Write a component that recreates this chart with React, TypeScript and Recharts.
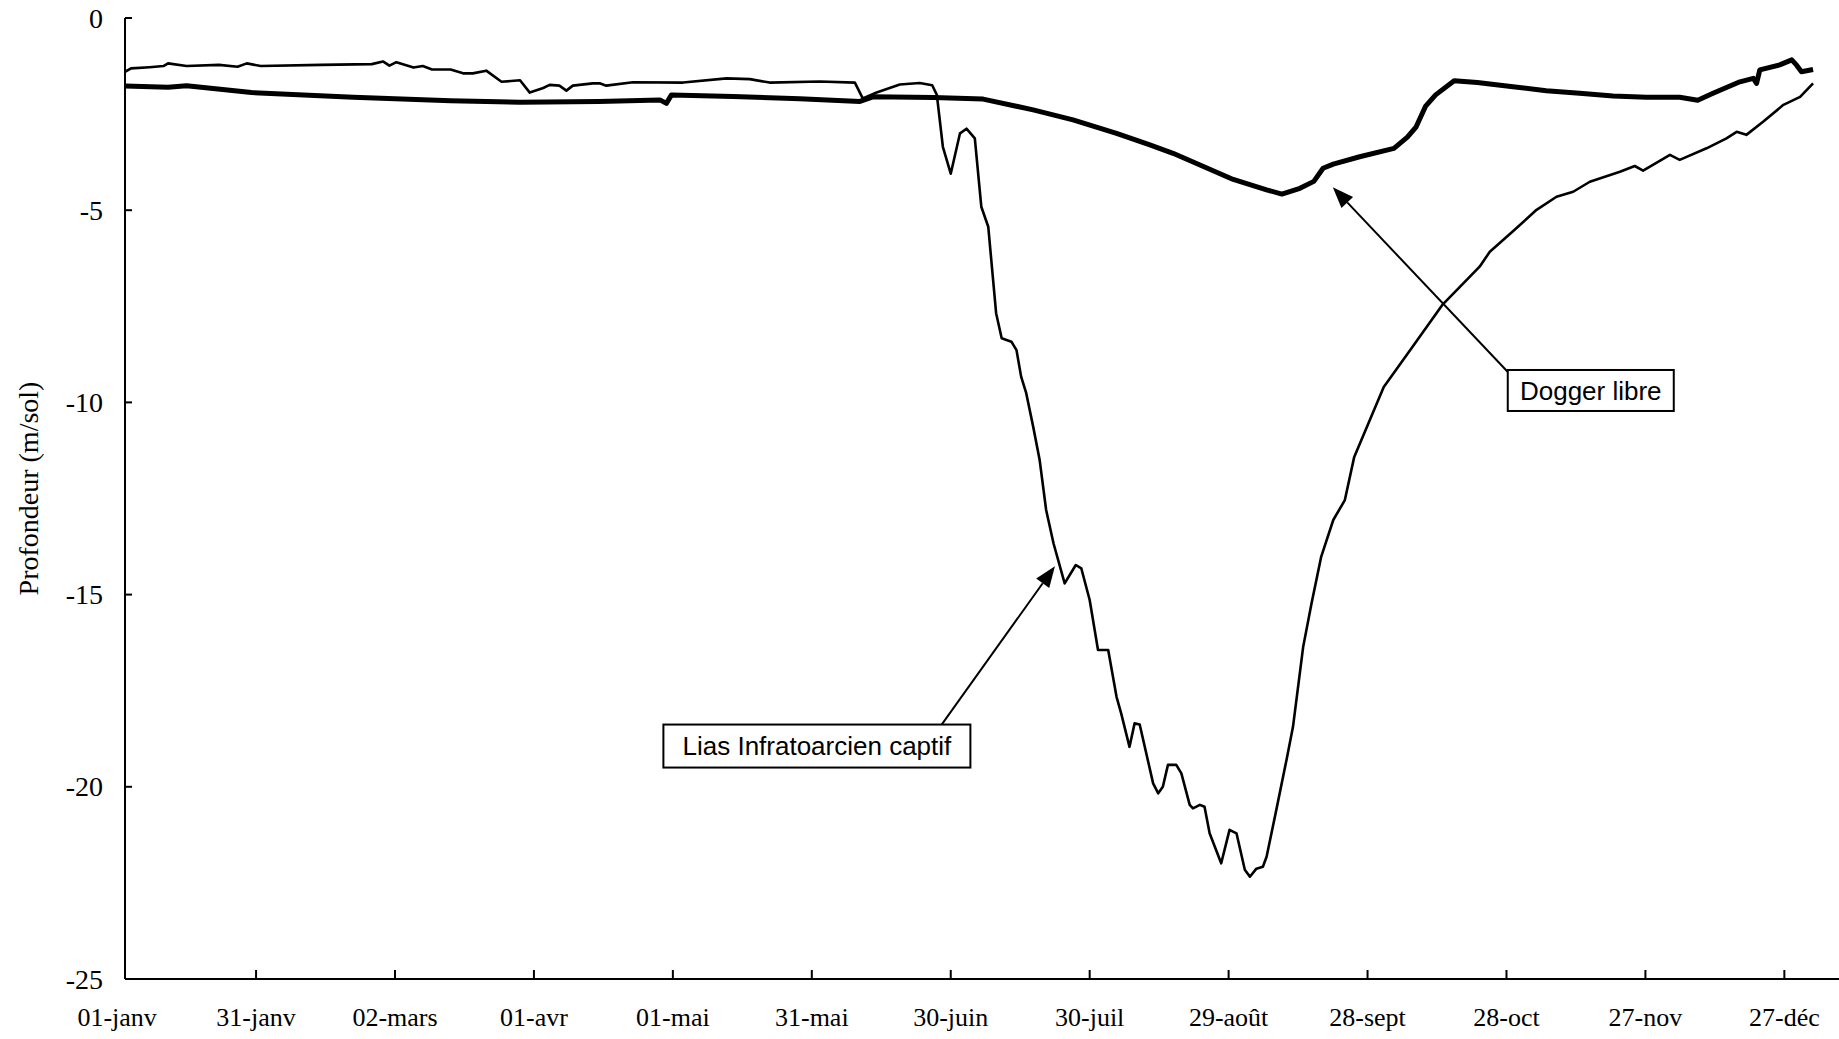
import React from 'react';
import { LineChart, Line, XAxis, YAxis, ReferenceLine, ReferenceDot } from 'recharts';

// Day of year (01-janv = 1)
const DAY_TICKS = [1, 31, 61, 91, 121, 151, 181, 211, 241, 271, 301, 331, 361];
const TICK_LABELS = ['01-janv', '31-janv', '02-mars', '01-avr', '01-mai', '31-mai', '30-juin', '30-juil', '29-août', '28-sept', '28-oct', '27-nov', '27-déc'];
const DEPTH_TICKS = [0, -5, -10, -15, -20, -25];

// Lias Infratoarcien captif (thin line)
const LIAS_DAYS = [
  2.7, 4, 8, 11, 12, 16, 23, 27, 29, 32, 45, 56, 58.4, 59.8, 61.3, 65, 67, 69, 73, 75.7,
  77.8, 80.7, 84, 88, 90.1, 93, 94.4, 96.5, 98, 99.4, 103.7, 105.2, 106.6, 112.4, 123.2, 132.6, 137.6, 141.9, 152.7, 160.3,
  162, 165, 170, 174.3, 177, 178, 179.3, 181, 183, 184.4, 186.2, 187.6, 189.1, 190.8, 192, 194.1, 195.2, 196.2, 197.3, 198.8,
  200.2, 201.6, 203.2, 205.6, 208, 209.2, 211, 212.8, 215, 216.8, 217.8, 219.6, 220.7, 221.8, 224.7, 225.8, 226.8, 227.9, 229.7, 230.8,
  232.6, 233.3, 234.8, 235.8, 236.9, 239.4, 241.2, 242.7, 244.5, 245.6, 247, 248.4, 249.2, 251.3, 253.5, 254.9, 257.1, 258.9, 261, 263.6,
  266.1, 268.1, 274.5, 280.8, 287.1, 295.2, 297.4, 302.4, 307.5, 311.8, 315.4, 319, 325.5, 328.7, 330.5, 336.3, 338.4, 344.2, 348.5, 350.7,
  352.8, 356.4, 360.8, 364.4, 367.2,
];
const LIAS_DEPTH = [
  -1.40, -1.31, -1.28, -1.25, -1.18, -1.25, -1.22, -1.27, -1.18, -1.25, -1.22, -1.20, -1.13, -1.24, -1.15, -1.29, -1.25, -1.34, -1.34, -1.44,
  -1.44, -1.37, -1.66, -1.62, -1.94, -1.82, -1.74, -1.76, -1.89, -1.76, -1.70, -1.70, -1.76, -1.67, -1.68, -1.57, -1.59, -1.68, -1.65, -1.68,
  -2.09, -1.94, -1.73, -1.69, -1.75, -2.0, -3.35, -4.05, -3.0, -2.88, -3.13, -4.91, -5.43, -7.68, -8.33, -8.42, -8.64, -9.33, -9.76, -10.63,
  -11.50, -12.80, -13.67, -14.71, -14.23, -14.32, -15.14, -16.44, -16.44, -17.66, -18.09, -18.96, -18.35, -18.38, -19.91, -20.17, -20.0, -19.43, -19.43, -19.65,
  -20.47, -20.56, -20.47, -20.52, -21.21, -21.99, -21.12, -21.21, -22.16, -22.34, -22.13, -22.08, -21.82, -20.60, -19.30, -18.44, -16.36, -15.23, -14.01, -13.06,
  -12.54, -11.43, -9.60, -8.54, -7.47, -6.47, -6.08, -5.55, -4.99, -4.65, -4.52, -4.26, -4.00, -3.85, -3.97, -3.56, -3.69, -3.39, -3.13, -2.96,
  -3.04, -2.70, -2.26, -2.05, -1.70,
];

// Dogger libre (thick line)
const DOGGER_DAYS = [
  2.7, 12, 16, 30, 52, 73, 88, 105, 118.2, 119.6, 120.7, 134, 148.4, 161.4, 164.2, 177.2, 188, 198.8, 207.4, 216.8,
  224, 229, 242, 249.2, 252.5, 256.4, 259.4, 261.4, 263.6, 269.3, 276.7, 279.6, 281.5, 283.5, 285.7, 289.7, 294.7, 302.4, 309.6, 316.8,
  324, 331.2, 338.4, 342.3, 345.6, 351.4, 354.3, 355, 355.7, 360, 362.6, 363.6, 364.7, 367.2,
];
const DOGGER_DEPTH = [
  -1.77, -1.80, -1.76, -1.94, -2.06, -2.15, -2.19, -2.17, -2.13, -2.22, -2.00, -2.04, -2.10, -2.17, -2.05, -2.07, -2.11, -2.39, -2.65, -3.0,
  -3.30, -3.52, -4.20, -4.47, -4.58, -4.43, -4.25, -3.91, -3.80, -3.61, -3.39, -3.10, -2.83, -2.30, -2.00, -1.63, -1.68, -1.79, -1.89, -1.96,
  -2.03, -2.06, -2.06, -2.14, -1.96, -1.66, -1.57, -1.70, -1.35, -1.22, -1.09, -1.22, -1.40, -1.34,
];

const liasData = LIAS_DAYS.map((day, i) => ({ day, value: LIAS_DEPTH[i] }));
const doggerData = DOGGER_DAYS.map((day, i) => ({ day, value: DOGGER_DEPTH[i] }));

// Callouts (data coordinates)
const CALLOUTS = [
  { label: 'Dogger libre', box: { x: 319.2, y: -9.69 }, from: { x: 301.3, y: -9.21 }, to: { x: 263.5, y: -4.4 }, w: 166, h: 41 },
  { label: 'Lias Infratoarcien captif', box: { x: 152.1, y: -18.94 }, from: { x: 179.0, y: -18.39 }, to: { x: 203.5, y: -14.26 }, w: 307, h: 43 },
];

const SERIF = '"Liberation Serif", "Times New Roman", serif';
const SANS = '"Liberation Sans", Arial, sans-serif';

const XTick = (props: any) => {
  const { x, y, payload, index } = props;
  const i = DAY_TICKS.indexOf(payload.value);
  return (
    <g>
      {index > 0 && <line x1={x} y1={y} x2={x} y2={y - 9} stroke="#000" strokeWidth={2} />}
      <text x={x} y={y + 47} textAnchor="middle" fontFamily={SERIF} fontSize={26} fill="#000">
        {i >= 0 ? TICK_LABELS[i] : ''}
      </text>
    </g>
  );
};

const YTick = (props: any) => {
  const { x, y, payload } = props;
  return (
    <g>
      <line x1={x} y1={y} x2={x + 7} y2={y} stroke="#000" strokeWidth={2} />
      <text x={x - 22} y={y} dy="0.34em" textAnchor="end" fontFamily={SERIF} fontSize={28} fill="#000">
        {payload.value}
      </text>
    </g>
  );
};

const YLabel = (props: any) => {
  const vb = props.viewBox || { x: 0, y: 18, width: 125, height: 961 };
  const cx = vb.x + 28;
  const cy = vb.y + vb.height / 2 - 10;
  return (
    <text
      x={cx}
      y={cy}
      transform={`rotate(-90 ${cx} ${cy})`}
      textAnchor="middle"
      dominantBaseline="central"
      fontFamily={SERIF}
      fontSize={28}
      fill="#000"
    >
      Profondeur (m/sol)
    </text>
  );
};

const Arrow = (props: any) => {
  const { x1, y1, x2, y2 } = props;
  const dx = x2 - x1;
  const dy = y2 - y1;
  const len = Math.sqrt(dx * dx + dy * dy) || 1;
  const ux = dx / len;
  const uy = dy / len;
  const headL = 21;
  const headW = 8;
  const bx = x2 - ux * headL;
  const by = y2 - uy * headL;
  const px = -uy * headW;
  const py = ux * headW;
  return (
    <g>
      <line x1={x1} y1={y1} x2={bx} y2={by} stroke="#000" strokeWidth={2} />
      <polygon points={`${x2},${y2} ${bx + px},${by + py} ${bx - px},${by - py}`} fill="#000" />
    </g>
  );
};

const makeBox = (label: string, w: number, h: number) => (props: any) => {
  const { cx, cy } = props;
  return (
    <g>
      <rect x={cx - w / 2} y={cy - h / 2} width={w} height={h} fill="#fff" stroke="#000" strokeWidth={2} />
      <text x={cx} y={cy} dy="0.36em" textAnchor="middle" fontFamily={SANS} fontSize={26} fill="#000">
        {label}
      </text>
    </g>
  );
};

export default function App() {
  return (
    <div style={{ position: 'fixed', left: 0, top: 0, width: 1839, height: 1039, background: '#fff' }}>
      <LineChart width={1839} height={1039} margin={{ top: 18, right: 0, bottom: 0, left: 0 }}>
        <XAxis
          type="number"
          dataKey="day"
          domain={[2.7, 372.8]}
          allowDataOverflow
          ticks={DAY_TICKS}
          interval={0}
          tickSize={0}
          tickMargin={0}
          tickLine={false}
          tick={<XTick />}
          axisLine={{ stroke: '#000', strokeWidth: 2 }}
          height={60}
        />
        <YAxis
          type="number"
          domain={[-25, 0]}
          allowDataOverflow
          ticks={DEPTH_TICKS}
          interval={0}
          tickSize={0}
          tickMargin={0}
          tickLine={false}
          tick={<YTick />}
          axisLine={{ stroke: '#000', strokeWidth: 2 }}
          width={125}
          label={(p: any) => <YLabel {...p} />}
        />
        <Line
          data={doggerData}
          dataKey="value"
          type="linear"
          stroke="#000"
          strokeWidth={5}
          dot={false}
          strokeLinejoin="round"
          isAnimationActive={false}
        />
        <Line
          data={liasData}
          dataKey="value"
          type="linear"
          stroke="#000"
          strokeWidth={2.6}
          dot={false}
          strokeLinejoin="round"
          isAnimationActive={false}
        />
        {CALLOUTS.map((c) => (
          <ReferenceLine key={c.label + '-arrow'} segment={[c.from, c.to]} shape={(p: any) => <Arrow {...p} />} ifOverflow="visible" />
        ))}
        {CALLOUTS.map((c) => (
          <ReferenceDot key={c.label + '-box'} x={c.box.x} y={c.box.y} r={1} ifOverflow="visible" shape={makeBox(c.label, c.w, c.h)} />
        ))}
      </LineChart>
    </div>
  );
}
